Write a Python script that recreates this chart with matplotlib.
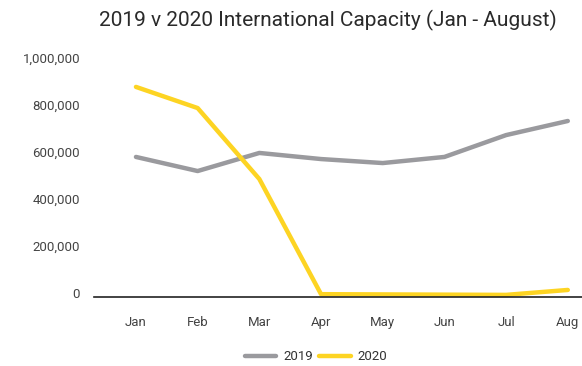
import numpy as np
import matplotlib.pyplot as plt
import matplotlib.transforms as mtransforms

months = ["Jan", "Feb", "Mar", "Apr", "May", "Jun", "Jul", "Aug"]
cap_2019 = [596000, 536000, 613000, 587000, 570000, 596000, 689000, 749000]
cap_2020 = [894000, 804000, 502000, 12000, 11000, 10000, 9000, 30000]
yticks = [0, 200000, 400000, 600000, 800000, 1000000]

plt.rcParams['font.family'] = ['Roboto', 'DejaVu Sans']

fig = plt.figure(figsize=(5.82, 3.66), dpi=100)
ax = fig.add_axes([94/582, 69/366, 1 - 94/582, 235/366])

x = np.arange(len(months))
ax.plot(x, cap_2019, color="#9a9a9e", lw=3.2, solid_capstyle="round", solid_joinstyle="round", label="2019", clip_on=False)
ax.plot(x, cap_2020, color="#fdd423", lw=3.2, solid_capstyle="round", solid_joinstyle="round", label="2020", clip_on=False)

ax.set_xlim(-0.68, 7.23)
ax.set_ylim(0, 1000000)
ax.set_xticks(x)
ax.set_xticklabels(months)
ax.set_yticks(yticks)
ax.set_yticklabels(["{:,}".format(v) for v in yticks])
ax.tick_params(axis="both", length=0, labelsize=9.5, labelcolor="#444444")
ax.tick_params(axis="x", pad=14)
ax.tick_params(axis="y", pad=10)
# y labels sit a little above their value
off = mtransforms.ScaledTranslation(0, 4/100, fig.dpi_scale_trans)
for lab in ax.get_yticklabels():
    lab.set_transform(lab.get_transform() + off)

for s in ["top", "right", "left"]:
    ax.spines[s].set_visible(False)
ax.spines["bottom"].set_color("#222222")
ax.spines["bottom"].set_linewidth(1.2)

fig.text(328/582, 1 - 20/366, "2019 v 2020 International Capacity (Jan - August)",
         ha="center", va="center", fontsize=15, color="#2a2a2a")

fig.legend(loc="center", bbox_to_anchor=(316/582, 1 - 357/366), ncol=2, frameon=False,
           fontsize=9.5, handlelength=2.4, columnspacing=0.5, handletextpad=0.5,
           labelcolor="#333333")

fig.savefig("out.png", dpi=100)
